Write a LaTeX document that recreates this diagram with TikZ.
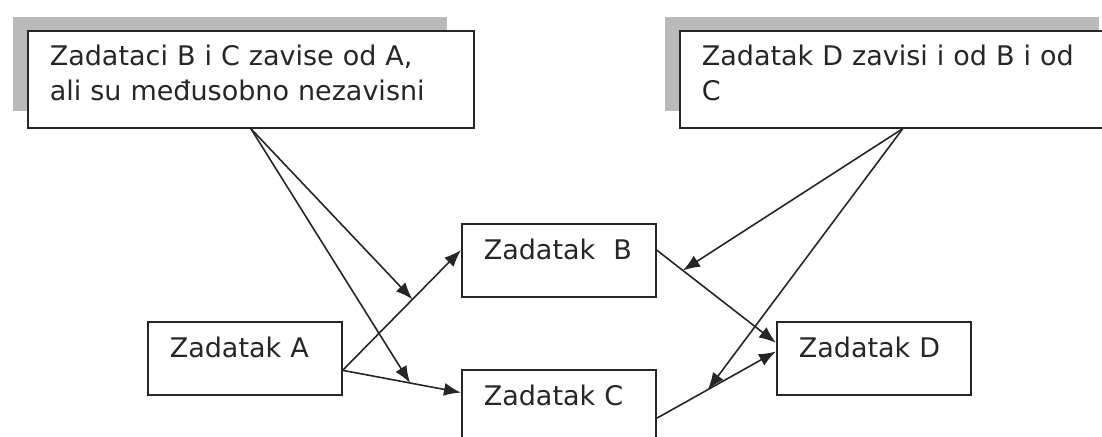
\documentclass[tikz,border=0pt]{standalone}
\usepackage{fontspec}
\setmainfont{DejaVu Sans}
\usepackage{tikz}
\usetikzlibrary{arrows.meta,shadows}
\tikzstyle{arrow} = [->,>={Latex[length=8.5pt,width=6.5pt]},line width=0.8pt,draw=black!85]

\begin{document}
\begin{tikzpicture}[
  x=0.5pt, y=-0.5pt,
  every node/.style={font=\fontsize{13.5}{17.5}\selectfont, text=black!85},
  box/.style={draw=black!85, line width=0.8pt, rectangle, anchor=north west,
    align=left, inner ysep=0pt, inner xsep=11pt, fill=white},
  task/.style={box, text width=75pt, text height=18pt, text depth=18.5pt},
  note/.style={box, text width=201pt, text height=17.5pt, text depth=31pt,
    drop shadow={shadow scale=0.973, shadow xshift=-10.5pt, shadow yshift=8pt,
      opacity=1, fill=black!27}}
]
\useasboundingbox (0,0) rectangle (1102,436);
\clip (0,0) rectangle (1102,436);
% napomene
\node[note] (n1) at (27,30) {Zadataci B i C zavise od A,\\ ali su međusobno nezavisni};
\node[note] (n2) at (679,30) {Zadatak D zavisi i od B i od\\ C};
% zadaci
\node[task] (A) at (147,321) {Zadatak A};
\node[task] (B) at (461,223) {Zadatak~ B};
\node[task] (C) at (461,369) {Zadatak C};
\node[task] (D) at (776,321) {Zadatak D};
% zavisnosti
\draw[arrow] (A.-7) -- (B.174) coordinate[pos=0.59] (ab);
\draw[arrow] (A.-7) -- (C.172.7) coordinate[pos=0.57] (ac);
\draw[arrow] (B.6) -- (D.171.5) coordinate[pos=0.22] (bd);
\draw[arrow] (C.-7.3) -- (D.176) coordinate[pos=0.43] (cd);
% od napomena
\draw[arrow] (n1.south) -- (ab);
\draw[arrow] (n1.south) -- (ac);
\draw[arrow] (n2.south) -- (bd);
\draw[arrow] (n2.south) -- (cd);
\end{tikzpicture}
\end{document}
